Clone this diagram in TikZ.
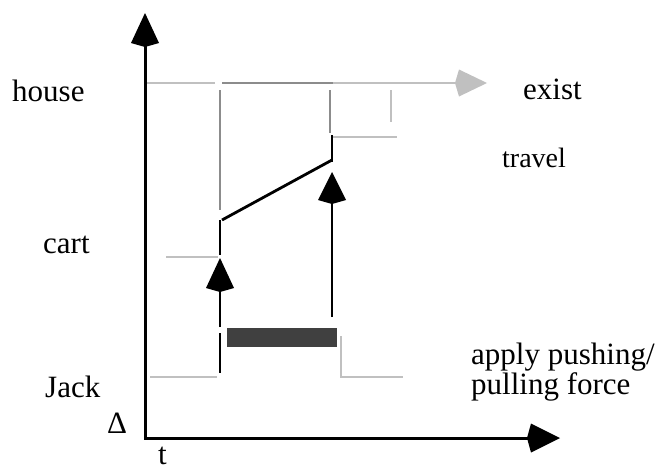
\documentclass[tikz,border=0pt]{standalone}
\usepackage{fontspec}
\setmainfont{Liberation Serif}
\usetikzlibrary{arrows.meta}
\definecolor{lgray}{HTML}{C0C0C0}
\definecolor{mgray}{HTML}{8C8C8C}
\definecolor{dbar}{HTML}{404040}
\tikzset{
  lbl/.style={anchor=base west,inner sep=0pt,font=\fontsize{31}{30}\selectfont},
  slbl/.style={anchor=base west,inner sep=0pt,font=\fontsize{28}{28}\selectfont},
  axisline/.style={line width=3pt,black},
  blk/.style={line width=2.8pt,black},
  lg/.style={line width=2.8pt,lgray},
  mg/.style={line width=2.8pt,mgray},
  bigtip/.style={-{Kite[length=34pt,width=28pt,inset=4pt]}},
}
\begin{document}
\begin{tikzpicture}[x=1pt,y=-1pt]
\useasboundingbox (0,0) rectangle (658,471);
% axes
\coordinate (vbot) at (145,438);
\coordinate (vtop) at (145,13);
\coordinate (hleft) at (144,438);
\coordinate (hright) at (560,438);
\draw[axisline,bigtip] (vbot) -- (vtop);
\draw[axisline,-{Kite[length=33pt,width=29pt,inset=4pt]}] (hleft) -- (hright);
% house line
\coordinate (h1) at (147,83);
\coordinate (h2) at (215,83);
\coordinate (h3) at (222,83);
\coordinate (h4) at (333,83);
\coordinate (h5) at (487,83);
\draw[lg] (h1) -- (h2);
\draw[mg] (h3) -- (h4);
\draw[lg,-{Kite[length=32pt,width=27pt,inset=4pt]}] (h4) -- (h5);
% verticals from house
\coordinate (a1) at (220,90);
\coordinate (a2) at (220,210);
\draw[mg] (a1) -- (a2);
\coordinate (b1) at (330,90);
\coordinate (b2) at (330,133);
\draw[mg] (b1) -- (b2);
\coordinate (c1) at (391,90);
\coordinate (c2) at (391,122);
\draw[lg] (c1) -- (c2);
\coordinate (d1) at (333,137);
\coordinate (d2) at (397,137);
\draw[lg] (d1) -- (d2);
% black travel segments
\coordinate (e1) at (220,220);
\coordinate (e2) at (220,255);
\draw[blk] (e1) -- (e2);
\coordinate (s1) at (222,220);
\coordinate (s2) at (332,160);
\draw[blk] (s1) -- (s2);
\coordinate (f1) at (332,135);
\coordinate (f2) at (332,162);
\draw[blk] (f1) -- (f2);
% cart line
\coordinate (g1) at (166,257);
\coordinate (g2) at (218,257);
\draw[lg] (g1) -- (g2);
% causal arrows
\coordinate (p1) at (220,327);
\coordinate (p2) at (220,258);
\draw[blk,bigtip] (p1) -- (p2);
\coordinate (q1) at (332,317);
\coordinate (q2) at (332,172);
\draw[blk,-{Kite[length=32pt,width=28pt,inset=4pt]}] (q1) -- (q2);
\coordinate (k1) at (220,333);
\coordinate (k2) at (220,373);
\draw[blk] (k1) -- (k2);
% Jack lines
\coordinate (j1) at (150,377);
\coordinate (j2) at (217,377);
\draw[lg] (j1) -- (j2);
\coordinate (m1) at (341,336);
\coordinate (m2) at (341,377);
\coordinate (m3) at (403,377);
\draw[lg] (m1) -- (m2) -- (m3);
% force bar
\fill[dbar] (227,328) rectangle (337,347);
% labels
\node[lbl] (house) at (12,101) {house};
\node[lbl] (cart) at (43,253) {cart};
\node[lbl] (jack) at (45,397) {Jack};
\node[lbl] (delta) at (107,433) {Δ};
\node[lbl] (t) at (158,464) {t};
\node[lbl] (exist) at (523,99) {exist};
\node[slbl] (travel) at (502,167) {travel};
\node[lbl] (apply) at (471,364) {apply pushing/};
\node[lbl] (pulling) at (471,394) {pulling force};
\end{tikzpicture}
\end{document}
